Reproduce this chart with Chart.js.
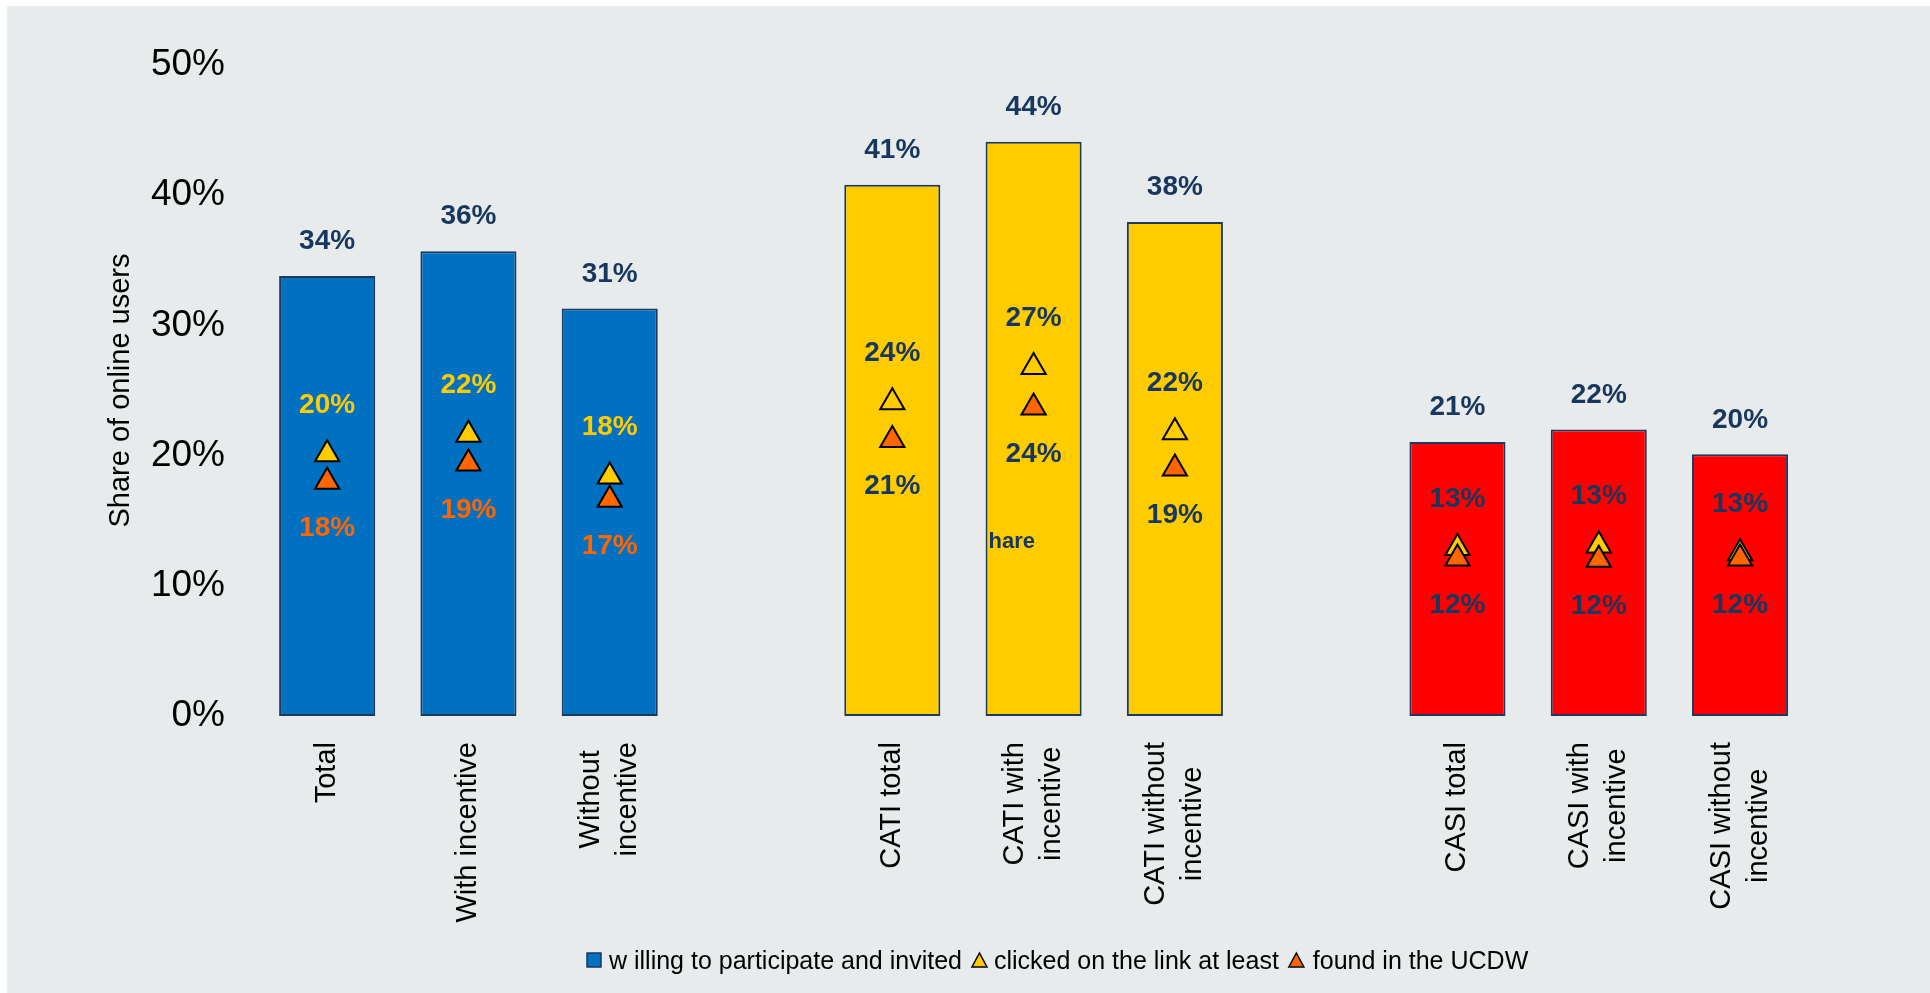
<!DOCTYPE html>
<html>
<head>
<meta charset="utf-8">
<title>Share of online users</title>
<script src="https://cdn.jsdelivr.net/npm/chart.js@4.4.1/dist/chart.umd.min.js"></script>
<style>
  html, body { margin: 0; padding: 0; background: #ffffff; }
  #survey_chart { display: block; margin: 6px 0 0 7px; }
</style>
</head>
<body>
<canvas id="survey_chart" width="1923" height="987"></canvas>
<script>
// categories, with an empty slot between the three groups
const categories = ['Total', 'With incentive', 'Without\nincentive', '',
    'CATI total', 'CATI with\nincentive', 'CATI without\nincentive', '',
    'CASI total', 'CASI with\nincentive', 'CASI without\nincentive'];
// which group each category belongs to (null = gap)
const groupOf = [0, 0, 0, null, 1, 1, 1, null, 2, 2, 2];

// values in %
const invited = [33.8, 35.7, 31.3, null, 40.8, 44.1, 37.95, null, 21.05, 22.0, 20.1];
const clicked = [20.1, 21.6, 18.4, null, 24.1, 26.8, 21.8, null, 12.9, 13.1, 12.5];
const found   = [18.0, 19.4, 16.6, null, 21.2, 23.7, 19.0, null, 12.1, 12.0, 12.1];

const yTicks = [0, 10, 20, 30, 40, 50];
const seriesNames = ['w illing to participate and invited', 'clicked on the link at least', 'found in the UCDW'];

// colours
const groupColors = ['#0070C0', '#FFCC00', '#FF0000'];
const navy = '#17375E';
const yellow = '#FFCC00';
const orange = '#FF6600';
const FONT = '"Liberation Sans", Arial, sans-serif';

const pct = v => Math.round(v) + '%';

function triangle (ctx, cx, cy, w, h, fill, lw) {
    ctx.beginPath();
    ctx.moveTo(cx, cy - h / 2);
    ctx.lineTo(cx + w / 2, cy + h / 2);
    ctx.lineTo(cx - w / 2, cy + h / 2);
    ctx.closePath();
    ctx.fillStyle = fill;
    ctx.fill();
    ctx.lineWidth = lw;
    ctx.strokeStyle = '#000';
    ctx.stroke();
}

// draws background, value labels, category labels and the legend
const annotate = {
    id: 'annotate',
    beforeDraw (chart) {
        const {ctx, width, height} = chart;
        ctx.save();
        ctx.fillStyle = '#E7EBEC';
        ctx.fillRect(0, 0, width, height);
        ctx.restore();
    },
    afterDatasetsDraw (chart) {
        const {ctx, chartArea, scales: {x, y}} = chart;
        ctx.save();

        // data labels
        ctx.font = 'bold 28px ' + FONT;
        ctx.textAlign = 'center';
        ctx.textBaseline = 'middle';
        categories.forEach((cat, i) => {
            if (invited[i] == null) return;
            const px = x.getPixelForValue(i);
            const g = groupOf[i];
            ctx.fillStyle = navy;
            ctx.fillText(pct(invited[i]), px, y.getPixelForValue(invited[i]) - 34.5);
            ctx.fillStyle = g === 0 ? yellow : navy;
            ctx.fillText(pct(clicked[i]), px, y.getPixelForValue(clicked[i]) - 49);
            ctx.fillStyle = g === 0 ? orange : navy;
            ctx.fillText(pct(found[i]), px, y.getPixelForValue(found[i]) + 46.5);
        });

        // stray text box left over in the original, on the CATI with incentive bar
        const bar = chart.getDatasetMeta(0).data[5];
        ctx.font = 'bold 22px ' + FONT;
        ctx.textAlign = 'left';
        ctx.fillStyle = navy;
        ctx.fillText('hare', bar.x - bar.width / 2 + 3, y.getPixelForValue(13.4));

        // category labels, rotated, lines centred on the tick
        ctx.font = '29px ' + FONT;
        ctx.fillStyle = '#000';
        categories.forEach((cat, i) => {
            if (!cat) return;
            const lines = cat.split('\n');
            const maxW = Math.max(...lines.map(l => ctx.measureText(l).width));
            const px = x.getPixelForValue(i);
            lines.forEach((line, j) => {
                ctx.save();
                ctx.translate(px + (j - (lines.length - 1) / 2) * 37, chartArea.bottom + 26 + maxW / 2);
                ctx.rotate(-Math.PI / 2);
                ctx.textAlign = 'center';
                ctx.textBaseline = 'middle';
                ctx.fillText(line, 0, 0);
                ctx.restore();
            });
        });

        // legend
        ctx.font = '25px ' + FONT;
        ctx.textAlign = 'left';
        ctx.textBaseline = 'middle';
        const ly = 954;
        let lx = 580;
        ctx.fillStyle = groupColors[0];
        ctx.fillRect(lx, ly - 7, 14, 14);
        ctx.lineWidth = 1.5;
        ctx.strokeStyle = navy;
        ctx.strokeRect(lx, ly - 7, 14, 14);
        lx += 22;
        ctx.fillStyle = '#000';
        ctx.fillText(seriesNames[0], lx, ly + 2);
        lx += ctx.measureText(seriesNames[0]).width + 10;
        triangle(ctx, lx + 7.5, ly, 15, 14, yellow, 1.5);
        lx += 22;
        ctx.fillStyle = '#000';
        ctx.fillText(seriesNames[1], lx, ly + 2);
        lx += ctx.measureText(seriesNames[1]).width + 10;
        triangle(ctx, lx + 7.5, ly, 15, 14, orange, 1.5);
        lx += 24;
        ctx.fillStyle = '#000';
        ctx.fillText(seriesNames[2], lx, ly + 2);

        ctx.restore();
    }
};

const ctx = document.getElementById('survey_chart');
new Chart(ctx, {
    data: {
        labels: categories,
        datasets: [
            {
                type: 'bar',
                label: seriesNames[0],
                data: invited,
                backgroundColor: groupOf.map(g => g == null ? 'transparent' : groupColors[g]),
                borderColor: '#1C3A5E',
                borderWidth: 2,
                borderSkipped: false,
                barPercentage: 0.68,
                categoryPercentage: 1,
                order: 3
            },
            {
                type: 'line',
                label: seriesNames[1],
                data: clicked,
                showLine: false,
                pointStyle: 'triangle',
                pointRadius: 14,
                pointBackgroundColor: yellow,
                pointBorderColor: '#000',
                pointBorderWidth: 2,
                order: 2
            },
            {
                type: 'line',
                label: seriesNames[2],
                data: found,
                showLine: false,
                pointStyle: 'triangle',
                pointRadius: 14,
                pointBackgroundColor: orange,
                pointBorderColor: '#000',
                pointBorderWidth: 2,
                order: 1
            }
        ]
    },
    options: {
        responsive: false,
        devicePixelRatio: 1,
        animation: false,
        layout: {
            padding: {left: 0, right: 119.3, top: 59, bottom: 277}
        },
        plugins: {
            legend: {display: false},
            tooltip: {enabled: false}
        },
        scales: {
            x: {
                display: false,
                offset: true
            },
            y: {
                min: yTicks[0],
                max: yTicks[yTicks.length - 1],
                afterFit: scale => { scale.width = 249.5; },
                afterBuildTicks: scale => { scale.ticks = yTicks.map(v => ({value: v})); },
                grid: {display: false, drawTicks: false},
                border: {display: false},
                ticks: {
                    padding: 31.5,
                    color: '#000',
                    font: {family: FONT, size: 37},
                    callback: v => v + '%'
                },
                title: {
                    display: true,
                    text: 'Share of online users',
                    color: '#000',
                    font: {family: FONT, size: 29},
                    padding: {top: 97, bottom: 0}
                }
            }
        }
    },
    plugins: [annotate]
});
</script>
</body>
</html>
